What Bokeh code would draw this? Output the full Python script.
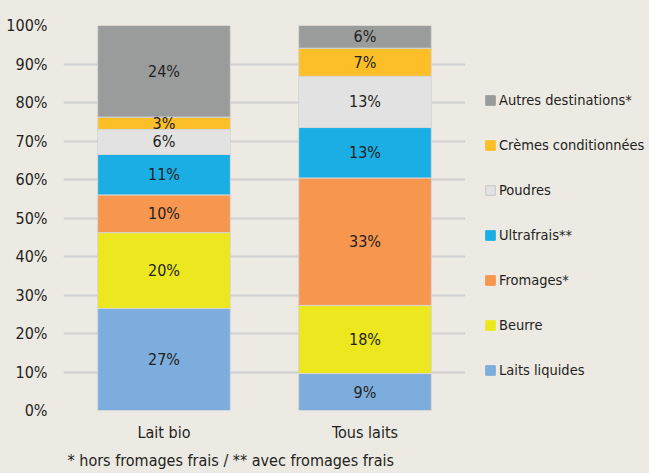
import numpy as np
from bokeh.plotting import figure
from bokeh.layouts import row
from bokeh.models import (FactorRange, Range1d, FixedTicker, PrintfTickFormatter,
                          Legend, LegendItem, ColumnDataSource, Title)
from bokeh.core.properties import value
from bokeh.embed import file_html
from bokeh.resources import INLINE

categories = ["Lait bio", "Tous laits"]
series = ["Laits liquides", "Beurre", "Fromages*", "Ultrafrais**", "Poudres",
          "Crèmes conditionnées", "Autres destinations*"]
lait_bio = [26.5, 19.7, 9.8, 10.5, 6.5, 3.2, 23.8]
tous_laits = [9.6, 17.7, 33.1, 13.1, 13.3, 7.3, 5.9]
lait_bio_labels = [27, 20, 10, 11, 6, 3, 24]
tous_laits_labels = [9, 18, 33, 13, 13, 7, 6]
colors = ["#7DADDC", "#EDE71F", "#F7964F", "#1BAEE4", "#E2E2E2", "#FDBF28", "#9A9C9C"]
y_ticks = [0, 10, 20, 30, 40, 50, 60, 70, 80, 90, 100]
footnote = "* hors fromages frais / ** avec fromages frais"

FONT = "DejaVu Sans Condensed, sans-serif"
TXT = "#231F20"
BG = "#EDEAE4"
FS = "16px"
FS_LEG = "14.5px"

p = figure(width=465, height=473, output_backend="svg", toolbar_location=None,
           x_range=FactorRange(factors=categories, range_padding=0),
           y_range=Range1d(0, 100),
           min_border_left=63, min_border_right=0, min_border_top=25, min_border_bottom=62)
p.background_fill_color = BG
p.border_fill_color = BG
p.outline_line_color = None

data = {"cat": categories}
for i, s in enumerate(series):
    data[s] = [lait_bio[i], tous_laits[i]]
src = ColumnDataSource(data)
rs = p.vbar_stack(series, x="cat", width=0.66, fill_color=colors, line_color="#D6D6D6",
                  line_width=1, source=src)

# value labels
xs, ys, ts = [], [], []
for cat, vals, labs in [(categories[0], lait_bio, lait_bio_labels),
                        (categories[1], tous_laits, tous_laits_labels)]:
    v = np.array(vals)
    mids = np.cumsum(v) - v / 2
    for m, l in zip(mids, labs):
        xs.append(cat)
        ys.append(float(m))
        ts.append(f"{l}%")
p.text(x="x", y="y", text="t", source=ColumnDataSource(dict(x=xs, y=ys, t=ts)),
       text_align="center", text_baseline="middle", text_font=value(FONT),
       text_font_size=FS, text_color=TXT)

# axes
p.yaxis.ticker = FixedTicker(ticks=y_ticks)
p.yaxis.formatter = PrintfTickFormatter(format="%d%%")
p.ygrid.ticker = FixedTicker(ticks=y_ticks)
p.ygrid.grid_line_color = "#D0D0D0"
p.ygrid.grid_line_width = 2
p.ygrid.level = "underlay"
p.xgrid.grid_line_color = None
for ax in (p.xaxis[0], p.yaxis[0]):
    ax.axis_line_color = None
    ax.major_tick_line_color = None
    ax.minor_tick_line_color = None
    ax.major_tick_in = 0
    ax.major_tick_out = 0
    ax.major_label_text_font = FONT
    ax.major_label_text_font_size = FS
    ax.major_label_text_color = TXT
p.yaxis.major_label_standoff = 16
p.xaxis.major_label_standoff = 12

p.add_layout(Title(text=footnote, align="left", offset=4, standoff=8,
                   text_font=FONT, text_font_size=FS, text_color=TXT,
                   text_font_style="normal"), "below")

# legend panel (separate figure to the right)
lg = figure(width=184, height=473, output_backend="svg", toolbar_location=None,
            x_range=Range1d(0, 1), y_range=Range1d(0, 1),
            x_axis_location=None, y_axis_location=None,
            min_border_left=0, min_border_right=0, min_border_top=0, min_border_bottom=0)
lg.background_fill_color = BG
lg.border_fill_color = BG
lg.outline_line_color = None
lg.xgrid.grid_line_color = None
lg.ygrid.grid_line_color = None

proxy = []
for i, s in enumerate(series):
    r = lg.vbar(x=[5], top=[1], width=0.5, fill_color=colors[i],
                line_color="#C8C8C8" if i == 4 else colors[i], line_width=1)
    proxy.append(r)

items = [LegendItem(label=series[i], renderers=[proxy[i]]) for i in reversed(range(len(series)))]
legend = Legend(items=items, location=(19, 29), glyph_width=12, glyph_height=12,
                label_standoff=3, spacing=23, label_height=22, padding=0, margin=0,
                border_line_color=None, background_fill_alpha=0,
                label_text_font=FONT, label_text_font_size=FS_LEG, label_text_color=TXT)
lg.add_layout(legend)

layout = row(p, lg, spacing=0, styles={"background-color": BG})
open("out.html", "w").write(file_html(layout, INLINE))
